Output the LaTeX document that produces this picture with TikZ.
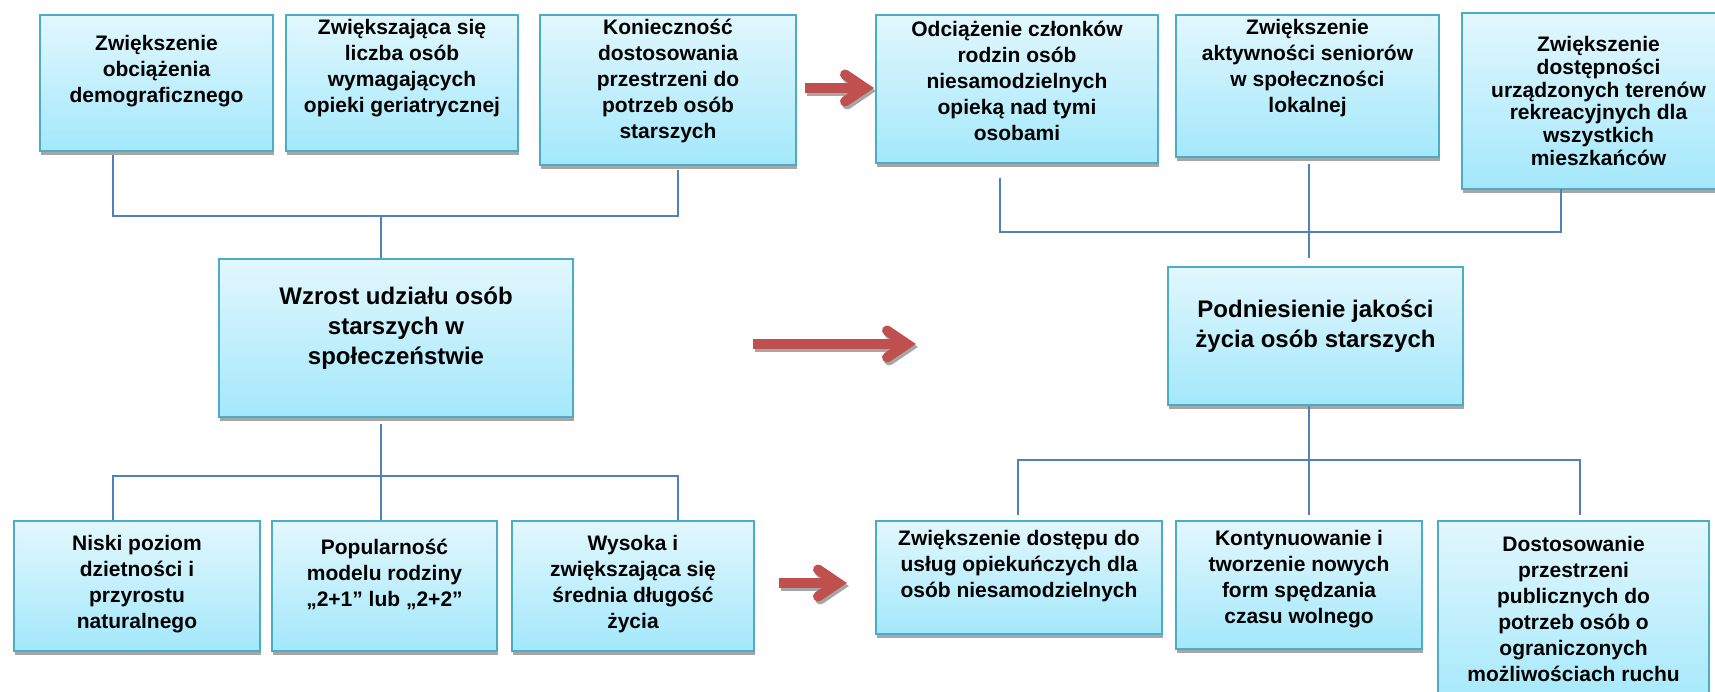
\documentclass[tikz,border=0pt]{standalone}
\usepackage{fontspec}
\setmainfont{Liberation Sans}
\usetikzlibrary{positioning, shadows}

\definecolor{boxline}{HTML}{4BACC6}
\definecolor{boxtop}{HTML}{E2F7FD}
\definecolor{boxbot}{HTML}{A3E8FB}
\definecolor{linkblue}{HTML}{4F81BD}
\definecolor{arrred}{HTML}{C0504D}
\definecolor{arrshade}{HTML}{A6A6A6}

\begin{document}
\begin{tikzpicture}[x=1pt, y=-1pt,
  box/.style={draw=boxline, line width=2pt, top color=boxtop, bottom color=boxbot,
    drop shadow={shadow xshift=1pt, shadow yshift=-4pt, fill=black!35, opacity=1},
    inner sep=0pt, anchor=north west},
  txt/.style={font=\bfseries\fontsize{21}{26}\selectfont, align=center, inner sep=0pt},
  bigtxt/.style={font=\bfseries\fontsize{24}{30}\selectfont, align=center, inner sep=0pt},
  link/.style={draw=linkblue, line width=1.6pt}]

  \fill[white] (0,0) rectangle (1715,692);
  \useasboundingbox (0,0) rectangle (1715,692);

  % top row
  \node[box, minimum width=233pt, minimum height=136pt,
    label={[txt, yshift=12pt]center:{Zwiększenie\\obciążenia\\demograficznego}}] (demo) at (39,14) {};
  \node[box, minimum width=232pt, minimum height=136pt,
    label={[txt, yshift=15pt]center:{Zwiększająca się\\liczba osób\\wymagających\\opieki geriatrycznej}}] (geri) at (285,14) {};
  \node[box, minimum width=256pt, minimum height=150pt,
    label={[txt, yshift=9pt]center:{Konieczność\\dostosowania\\przestrzeni do\\potrzeb osób\\starszych}}] (przestrz) at (539,14) {};
  \node[box, minimum width=282pt, minimum height=148pt,
    label={[txt, yshift=8pt]center:{Odciążenie członków\\rodzin osób\\niesamodzielnych\\opieką nad tymi\\osobami}}] (odciaz) at (875,14) {};
  \node[box, minimum width=263pt, minimum height=142pt,
    label={[txt, yshift=18pt]center:{Zwiększenie\\aktywności seniorów\\w społeczności\\lokalnej}}] (aktyw) at (1175,14) {};
  \node[box, minimum width=273pt, minimum height=176pt,
    label={[txt, font=\bfseries\fontsize{21}{22.7}\selectfont]center:{Zwiększenie\\dostępności\\urządzonych terenów\\rekreacyjnych dla\\wszystkich\\mieszkańców}}] (tereny) at (1461,12) {};

  % middle row
  \node[box, minimum width=354pt, minimum height=158pt,
    label={[bigtxt, yshift=10pt]center:{Wzrost udziału osób\\starszych w\\społeczeństwie}}] (wzrost) at (218,258) {};
  \node[box, minimum width=295pt, minimum height=138pt,
    label={[bigtxt, yshift=10pt]center:{Podniesienie jakości\\życia osób starszych}}] (jakosc) at (1167,266) {};

  % bottom row
  \node[box, minimum width=246pt, minimum height=130pt,
    label={[txt, yshift=2pt]center:{Niski poziom\\dzietności i\\przyrostu\\naturalnego}}] (dziet) at (13,520) {};
  \node[box, minimum width=225pt, minimum height=130pt,
    label={[txt, yshift=12pt]center:{Popularność\\modelu rodziny\\„2+1” lub „2+2”}}] (model) at (271,520) {};
  \node[box, minimum width=242pt, minimum height=130pt,
    label={[txt, yshift=2pt]center:{Wysoka i\\zwiększająca się\\średnia długość\\życia}}] (dlugosc) at (511,520) {};
  \node[box, minimum width=286pt, minimum height=113pt,
    label={[txt, yshift=11pt]center:{Zwiększenie dostępu do\\usług opiekuńczych dla\\osób niesamodzielnych}}] (uslugi) at (875,520) {};
  \node[box, minimum width=246pt, minimum height=128pt,
    label={[txt, yshift=6pt]center:{Kontynuowanie i\\tworzenie nowych\\form spędzania\\czasu wolnego}}] (czas) at (1175,520) {};
  \node[box, minimum width=271pt, minimum height=190pt,
    label={[txt, yshift=7pt]center:{Dostosowanie\\przestrzeni\\publicznych do\\potrzeb osób o\\ograniczonych\\możliwościach ruchu}}] (ruch) at (1437,520) {};

  % left tree
  \coordinate (a1) at (113,155);
  \coordinate (a3) at (678,170);
  \coordinate (ja) at (381,216);
  \draw[link] (a1) -- (a1 |- ja) -- (a3 |- ja) -- (a3);
  \draw[link] (ja) -- (ja |- wzrost.north);

  \coordinate (jb) at (381,476);
  \coordinate (b1) at (113,476);
  \coordinate (b3) at (678,476);
  \draw[link] (b1 |- dziet.north) -- (b1) -- (b3) -- (b3 |- dlugosc.north);
  \draw[link] ([yshift=-6pt]wzrost.south -| jb) -- (jb |- model.north);

  % right tree
  \coordinate (c1) at (1000,178);
  \coordinate (c3) at (1561,189);
  \coordinate (jc) at (1309,232);
  \draw[link] (c1) -- (c1 |- jc) -- (c3 |- jc) -- (c3);
  \draw[link] ([yshift=-6pt]aktyw.south -| jc) -- ([yshift=8pt]jakosc.north -| jc);

  \coordinate (jd) at (1309,460);
  \coordinate (d1) at (1018,460);
  \coordinate (d3) at (1580,460);
  \draw[link] (jakosc.south -| jd) -- ([yshift=5pt]czas.north -| jd);
  \draw[link] ([yshift=5pt]uslugi.north -| d1) -- (d1) -- (d3) -- ([yshift=5pt]ruch.north -| d3);

  % red arrows
  \coordinate (top-s) at (805,88);  \coordinate (top-t) at (865,88);
  \coordinate (mid-s) at (753,344); \coordinate (mid-t) at (907,344);
  \coordinate (low-s) at (779,583); \coordinate (low-t) at (838,583);
  \foreach \p in {top,mid,low}{
    \foreach \col/\dx/\dy in {arrshade/2/3, arrred/0/0}{
      \draw[line width=10pt, \col] ([shift={(\dx,\dy)}]\p-s) -- ([shift={(\dx-6,\dy)}]\p-t);
      \draw[line width=10pt, \col, line cap=round, line join=miter]
        ([shift={(\dx-20,\dy-13.5)}]\p-t) -- ([shift={(\dx,\dy)}]\p-t) -- ([shift={(\dx-20,\dy+13.5)}]\p-t);
    }
  }
\end{tikzpicture}
\end{document}
